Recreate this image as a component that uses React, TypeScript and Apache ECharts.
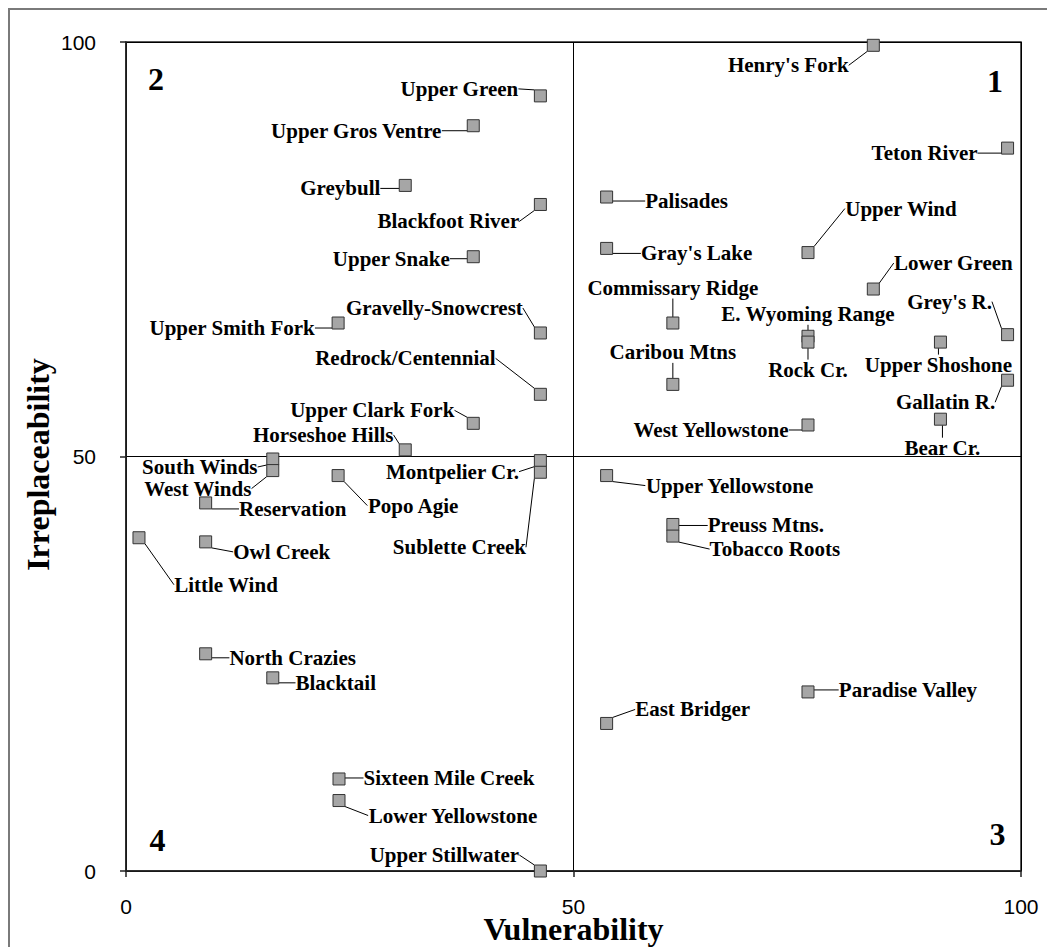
import React, { useEffect, useRef } from "react";
import * as echarts from "echarts";

const sites = [
  "Henry's Fork", "Upper Green", "Upper Gros Ventre", "Teton River", "Greybull",
  "Palisades", "Blackfoot River", "Upper Wind", "Gray's Lake", "Upper Snake",
  "Lower Green", "Commissary Ridge", "Upper Smith Fork", "Gravelly-Snowcrest", "Grey's R.",
  "E. Wyoming Range", "Rock Cr.", "Upper Shoshone", "Caribou Mtns", "Gallatin R.",
  "Redrock/Centennial", "Bear Cr.", "Upper Clark Fork", "West Yellowstone", "Horseshoe Hills",
  "South Winds", "Montpelier Cr.", "West Winds", "Sublette Creek", "Popo Agie",
  "Upper Yellowstone", "Reservation", "Preuss Mtns.", "Tobacco Roots", "Little Wind",
  "Owl Creek", "North Crazies", "Blacktail", "Paradise Valley", "East Bridger",
  "Sixteen Mile Creek", "Lower Yellowstone", "Upper Stillwater",
];

const vulnerability = [
  83.5, 46.3, 38.8, 98.5, 31.2,
  53.7, 46.3, 76.2, 53.7, 38.8,
  83.5, 61.1, 23.7, 46.3, 98.5,
  76.2, 76.2, 91.0, 61.1, 98.5,
  46.3, 91.0, 38.8, 76.2, 31.2,
  16.4, 46.3, 16.4, 46.3, 23.7,
  53.7, 8.9, 61.1, 61.1, 1.45,
  8.9, 8.9, 16.4, 76.2, 53.7,
  23.8, 23.8, 46.3,
];

const irreplaceability = [
  99.6, 93.5, 89.9, 87.2, 82.7,
  81.3, 80.4, 74.6, 75.1, 74.1,
  70.2, 66.1, 66.1, 64.9, 64.7,
  64.5, 63.8, 63.8, 58.7, 59.2,
  57.5, 54.5, 54.0, 53.8, 50.8,
  49.7, 49.5, 48.3, 48.1, 47.7,
  47.7, 44.4, 41.8, 40.4, 40.2,
  39.7, 26.2, 23.3, 21.6, 17.8,
  11.1, 8.5, 0.0,
];

const quadrantNames = ["1", "2", "3", "4"];
const xAxisTitle = "Vulnerability";
const yAxisTitle = "Irreplaceability";

// label placement (pixel offsets of label centre from its marker)
const labelOffsets: Record<string, [number, number]> = {
  "Henry's Fork": [-85, 20],
  "Upper Green": [-81, -7],
  "Upper Gros Ventre": [-117, 5],
  "Teton River": [-83, 5],
  "Greybull": [-65, 3],
  "Palisades": [80, 4],
  "Blackfoot River": [-92, 17],
  "Upper Wind": [93, -44],
  "Gray's Lake": [90, 5],
  "Upper Snake": [-82, 2],
  "Lower Green": [80, -26],
  "Commissary Ridge": [0, -35],
  "Upper Smith Fork": [-106, 5],
  "Gravelly-Snowcrest": [-106, -25],
  "Grey's R.": [-58, -33],
  "E. Wyoming Range": [0, -22],
  "Rock Cr.": [0, 28],
  "Upper Shoshone": [-2, 23],
  "Caribou Mtns": [0, -32],
  "Gallatin R.": [-62, 22],
  "Redrock/Centennial": [-135, -36],
  "Bear Cr.": [2, 29],
  "Upper Clark Fork": [-101, -13],
  "West Yellowstone": [-97, 5],
  "Horseshoe Hills": [-82, -15],
  "South Winds": [-73, 8],
  "Montpelier Cr.": [-88, 11],
  "West Winds": [-75, 18],
  "Sublette Creek": [-81, 75],
  "Popo Agie": [75, 30],
  "Upper Yellowstone": [123, 10],
  "Reservation": [87, 6],
  "Preuss Mtns.": [93, 1],
  "Tobacco Roots": [102, 13],
  "Little Wind": [87, 47],
  "Owl Creek": [76, 10],
  "North Crazies": [87, 4],
  "Blacktail": [63, 5],
  "Paradise Valley": [100, -2],
  "East Bridger": [86, -14],
  "Sixteen Mile Creek": [110, -1],
  "Lower Yellowstone": [114, 15],
  "Upper Stillwater": [-96, -16],
};

const SERIF = "'Liberation Serif', 'Times New Roman', serif";
const SANS = "'Liberation Sans', Arial, sans-serif";

export default function App() {
  const ref = useRef<HTMLDivElement>(null);

  useEffect(() => {
    if (!ref.current) return;
    document.documentElement.style.overflow = "hidden";
    document.body.style.overflow = "hidden";
    const chart = echarts.init(ref.current, null, { renderer: "svg" });
    const data = sites.map((n, i) => ({
      name: n,
      value: [vulnerability[i], irreplaceability[i]],
    }));
    const axisLineStyle = { color: "#222", width: 1.5 };
    chart.setOption({
      animation: false,
      backgroundColor: "#ffffff",
      grid: {
        left: 118,
        top: 34,
        width: 895,
        height: 829,
        show: true,
        borderColor: "#222",
        borderWidth: 1.5,
        backgroundColor: "transparent",
        containLabel: false,
        outerBoundsMode: "none",
      },
      xAxis: {
        type: "value",
        min: 0,
        max: 100,
        interval: 50,
        name: xAxisTitle,
        nameLocation: "middle",
        nameGap: 45,
        nameMoveOverlap: false,
        nameTextStyle: {
          fontFamily: SERIF,
          fontWeight: "bold",
          fontSize: 32,
          lineHeight: 26,
          color: "#000",
        },
        axisLine: { show: true, onZero: false, lineStyle: axisLineStyle },
        axisTick: { show: true, inside: false, length: 6, lineStyle: axisLineStyle },
        axisLabel: { margin: 27, lineHeight: 16, fontFamily: SANS, fontSize: 21, color: "#000" },
        splitLine: { show: true, lineStyle: { color: "#000", width: 1 } },
      },
      yAxis: {
        type: "value",
        min: 0,
        max: 100,
        interval: 50,
        name: yAxisTitle,
        nameLocation: "middle",
        nameGap: 72,
        nameRotate: 90,
        nameMoveOverlap: false,
        nameTextStyle: {
          fontFamily: SERIF,
          fontWeight: "bold",
          fontSize: 32,
          color: "#000",
          padding: [0, 16, 0, 0],
        },
        axisLine: { show: true, onZero: false, lineStyle: axisLineStyle },
        axisTick: { show: true, inside: false, length: 6, lineStyle: axisLineStyle },
        axisLabel: { margin: 30, fontFamily: SANS, fontSize: 21, color: "#000" },
        splitLine: { show: true, lineStyle: { color: "#000", width: 1 } },
      },
      series: [
        {
          type: "scatter",
          data,
          symbol: "rect",
          symbolSize: 12,
          itemStyle: { color: "#a6a6a6", borderColor: "#333", borderWidth: 1, opacity: 1 },
          label: {
            show: true,
            position: "inside",
            formatter: "{b}",
            align: "center",
            verticalAlign: "middle",
            fontFamily: SERIF,
            fontWeight: "bold",
            fontSize: 21,
            color: "#000",
            textBorderWidth: 0,
          },
          labelLine: { show: true, lineStyle: { color: "#000", width: 1 } },
          labelLayout: (p: any) => {
            const o = labelOffsets[sites[p.dataIndex]] || [0, 0];
            return { dx: o[0], dy: o[1] };
          },
          emphasis: { disabled: true },
          z: 5,
        },
      ],
      graphic: [
        {
          type: "line",
          shape: { x1: 0, y1: 1, x2: 1039, y2: 1 },
          style: { stroke: "#7a7a7a", lineWidth: 2 },
        },
        {
          type: "line",
          shape: { x1: 1, y1: 0, x2: 1, y2: 939 },
          style: { stroke: "#7a7a7a", lineWidth: 2 },
        },
        {
          type: "text",
          x: 148,
          y: 71,
          style: { text: quadrantNames[1], font: `bold 32px ${SERIF}`, fill: "#000", textAlign: "center", textVerticalAlign: "middle" },
        },
        {
          type: "text",
          x: 987,
          y: 73,
          style: { text: quadrantNames[0], font: `bold 32px ${SERIF}`, fill: "#000", textAlign: "center", textVerticalAlign: "middle" },
        },
        {
          type: "text",
          x: 989.5,
          y: 825.5,
          style: { text: quadrantNames[2], font: `bold 32px ${SERIF}`, fill: "#000", textAlign: "center", textVerticalAlign: "middle" },
        },
        {
          type: "text",
          x: 149.5,
          y: 832,
          style: { text: quadrantNames[3], font: `bold 32px ${SERIF}`, fill: "#000", textAlign: "center", textVerticalAlign: "middle" },
        },
      ],
    });
    return () => chart.dispose();
  }, []);

  return <div ref={ref} style={{ width: 1039, height: 939 }} />;
}
